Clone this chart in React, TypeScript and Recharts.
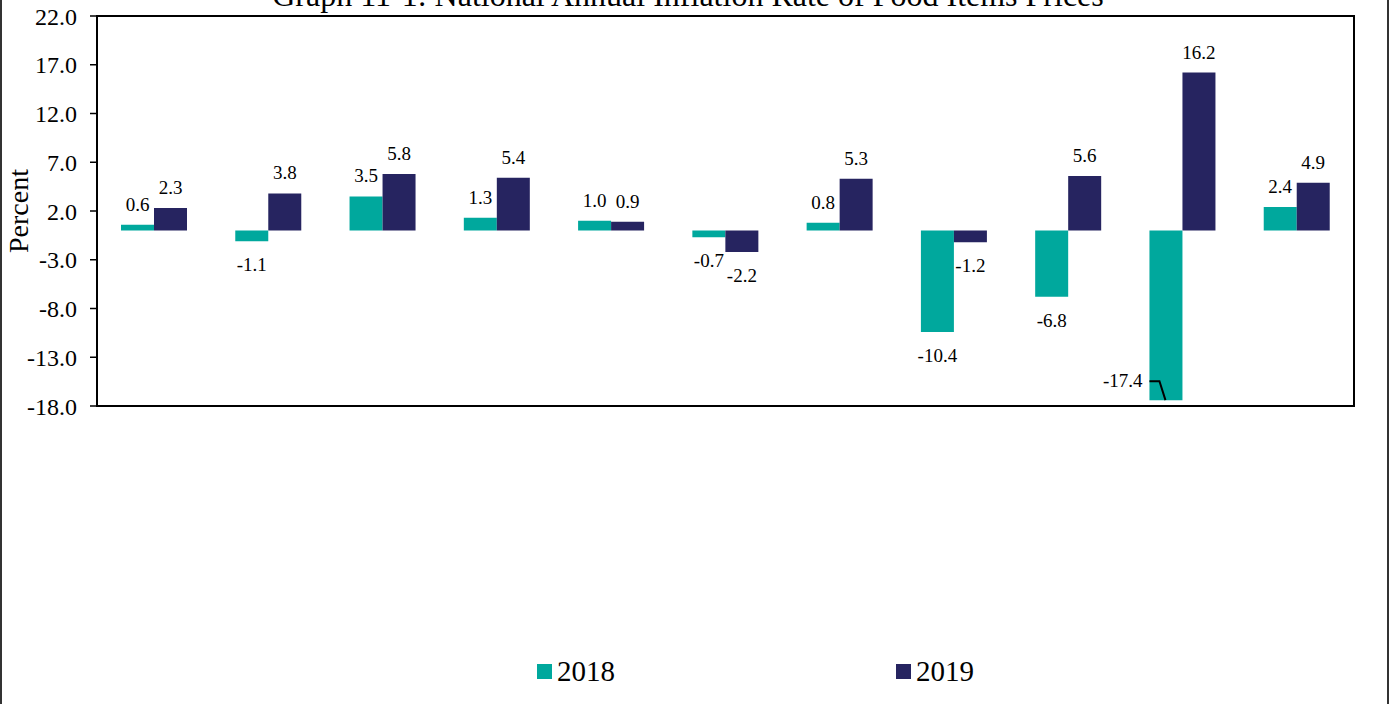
import React from "react";
import { BarChart, Bar, XAxis, YAxis, LabelList, Legend, ReferenceArea } from "recharts";

const groups = ["1", "2", "3", "4", "5", "6", "7", "8", "9", "10", "11"];
const rate2018 = [0.6, -1.1, 3.5, 1.3, 1.0, -0.7, 0.8, -10.4, -6.8, -17.4, 2.4];
const rate2019 = [2.3, 3.8, 5.8, 5.4, 0.9, -2.2, 5.3, -1.2, 5.6, 16.2, 4.9];
const yTicks = [-18, -13, -8, -3, 2, 7, 12, 17, 22];

const TEAL = "#00A89D";
const NAVY = "#262460";
const FONT = "'Liberation Serif', 'Times New Roman', serif";

const data = groups.map((g, i) => ({ group: g, y2018: rate2018[i], y2019: rate2019[i] }));

// label above positive bars, below negative ones; one bar gets a callout on its left
const makeLabel = (calloutIndex?: number) => (props: any) => {
  const { x, y, width, height, value, index } = props;
  const top = Math.min(y, y + height);
  const bottom = Math.max(y, y + height);
  const text = Number(value).toFixed(1);
  if (calloutIndex !== undefined && index === calloutIndex) {
    return (
      <g>
        <text x={x - 7} y={bottom - 13} textAnchor="end" fontSize={19} fontFamily={FONT} fill="#000">
          {text}
        </text>
        <path d={`M${x},${bottom - 19}H${x + 10}L${x + 16},${bottom}`} stroke="#000" strokeWidth={2} fill="none" />
      </g>
    );
  }
  return (
    <text
      x={x + width / 2}
      y={value >= 0 ? top - 14 : bottom + 30}
      textAnchor="middle"
      fontSize={19}
      fontFamily={FONT}
      fill="#000"
    >
      {text}
    </text>
  );
};

const renderLegend = (props: any) => {
  const { payload } = props;
  return (
    <div style={{ position: "relative", height: 40, fontFamily: FONT, fontSize: 29, color: "#000" }}>
      {payload.map((p: any, i: number) => (
        <div
          key={p.value}
          style={{ position: "absolute", left: i === 0 ? 537 : 896, top: 0, display: "flex", alignItems: "center" }}
        >
          <span style={{ width: 15, height: 15, background: p.color, marginRight: 5, display: "inline-block" }} />
          <span>{p.value}</span>
        </div>
      ))}
    </div>
  );
};

const PercentLabel = () => (
  <text x={28} y={211} transform="rotate(-90, 28, 211)" textAnchor="middle" fontSize={28} fontFamily={FONT} fill="#000">
    Percent
  </text>
);

export default function App() {
  return (
    <div style={{ position: "absolute", top: 0, left: 0, width: 1389, height: 704, overflow: "hidden", background: "#fff" }}>
      <div
        style={{
          position: "absolute",
          top: -21,
          left: 0,
          width: 1376,
          textAlign: "center",
          fontFamily: FONT,
          fontSize: 32,
          lineHeight: "32px",
          color: "#000",
          whiteSpace: "nowrap",
        }}
      >
        Graph 11-1: National Annual Inflation Rate of Food Items Prices
      </div>
      <div style={{ position: "absolute", left: 0, top: 0, width: 2, height: 704, background: "#333" }} />
      <div style={{ position: "absolute", left: 1387, top: 0, width: 2, height: 704, background: "#333" }} />
      <div style={{ position: "absolute", top: 0, left: 0 }}>
        <BarChart width={1389} height={704} data={data} margin={{ top: 16, right: 35, left: 0, bottom: 258 }} barGap={0}>
          <XAxis dataKey="group" tick={false} tickLine={false} height={0} axisLine={{ stroke: "#000", strokeWidth: 2 }} />
          <YAxis
            width={97}
            domain={[-18, 22]}
            ticks={yTicks}
            interval={0}
            allowDataOverflow
            tickFormatter={(v: number) => v.toFixed(1)}
            tickSize={7}
            tickMargin={13}
            tick={{ fontSize: 24, fontFamily: FONT, fill: "#000" }}
            tickLine={{ stroke: "#000", strokeWidth: 1.5 }}
            axisLine={{ stroke: "#000", strokeWidth: 2 }}
            label={<PercentLabel />}
          />
          <ReferenceArea y1={-18} y2={22} fill="none" stroke="#000" strokeWidth={2} />
          <Legend verticalAlign="bottom" content={renderLegend} wrapperStyle={{ top: 655, left: 0, width: 1389 }} />
          <Bar dataKey="y2018" name="2018" fill={TEAL} barSize={33} isAnimationActive={false}>
            <LabelList dataKey="y2018" content={makeLabel(9)} />
          </Bar>
          <Bar dataKey="y2019" name="2019" fill={NAVY} barSize={33} isAnimationActive={false}>
            <LabelList dataKey="y2019" content={makeLabel()} />
          </Bar>
        </BarChart>
      </div>
    </div>
  );
}
